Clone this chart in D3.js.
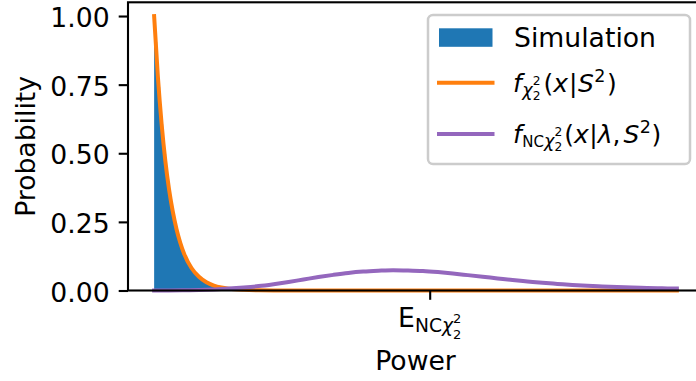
<!DOCTYPE html>
<html>
<head>
<meta charset="utf-8">
<script src="https://cdn.jsdelivr.net/npm/d3@7"></script>
<style>
  html, body { margin: 0; padding: 0; background: #fff; }
  svg { display: block; }
  text { font-family: "DejaVu Sans", sans-serif; fill: #000; }
</style>
</head>
<body>
<svg id="chart" width="696" height="381"></svg>
<script>
// Simulated power histogram (density), bins of equal width starting at 0
const histBinWidth = 0.2;
const histDensity = [0.905, 0.742, 0.606, 0.498, 0.406, 0.334, 0.272, 0.224, 0.182, 0.151,
  0.122, 0.101, 0.083, 0.070, 0.055, 0.045, 0.037, 0.030, 0.025, 0.020,
  0.017, 0.014, 0.011, 0.009, 0.0075, 0.006, 0.005, 0.004, 0.0034, 0.0028,
  0.0023, 0.0018, 0.0015, 0.0012, 0.001, 0.0008, 0.0007, 0.0005, 0.0004, 0.0003];

// Central chi-squared density samples
const chiX = [0, 0.25, 0.5, 0.75, 1, 1.25, 1.5, 1.75, 2, 2.5, 3, 3.5, 4, 4.5, 5, 6, 7, 8, 10, 15, 20, 25, 30, 35];
const chiY = [1.000, 0.779, 0.607, 0.472, 0.368, 0.287, 0.223, 0.174, 0.135, 0.082, 0.050, 0.030,
  0.018, 0.011, 0.0067, 0.0025, 0.0009, 0.0003, 0, 0, 0, 0, 0, 0];

// Non-central chi-squared density samples
const ncX = [0, 1, 2, 3, 4, 5, 6, 7, 8, 9, 10, 11, 12, 13, 14, 15, 16, 17, 18, 19, 20,
  21, 22, 23, 24, 25, 26, 27, 28, 29, 30, 31, 32, 33, 34, 35];
const ncY = [0, 0.0003, 0.001, 0.002, 0.004, 0.007, 0.011, 0.016, 0.023, 0.031, 0.040,
  0.049, 0.057, 0.064, 0.069, 0.072, 0.074, 0.073, 0.071, 0.067, 0.062, 0.056, 0.050,
  0.044, 0.038, 0.033, 0.028, 0.024, 0.020, 0.017, 0.015, 0.013, 0.011, 0.0095, 0.008, 0.007];

// Expected value of the non-central distribution (single x tick)
const ncMean = 18.45;
const yTicks = [0, 0.25, 0.5, 0.75, 1.0];

const FS = 26.67;   // regular text size
const MFS = 25;     // math text size in the legend
const LW = 4;
const colors = { hist: "#1f77b4", chi: "#ff7f0e", nc: "#9467bd" };

const svg = d3.select("#chart");
const plotL = 128, plotR = 703, plotT = 2.3, plotB = 290.5;

const x = d3.scaleLinear().domain([-1.75, 36.75]).range([plotL, plotR]);
const y = d3.scaleLinear().domain([0, 1.05]).range([plotB, plotT]);

// histogram as one stepped area (no seams between bins)
const histPts = histDensity.map((d, i) => [i * histBinWidth, d]);
histPts.push([histDensity.length * histBinWidth, histDensity[histDensity.length - 1]]);
const histArea = d3.area().x(d => x(d[0])).y0(y(0)).y1(d => y(d[1])).curve(d3.curveStepAfter);
svg.append("path").attr("d", histArea(histPts)).attr("fill", colors.hist);

const line = d3.line().x(d => x(d[0])).y(d => y(d[1])).curve(d3.curveMonotoneX);

svg.append("path")
  .attr("d", line(d3.zip(chiX, chiY)))
  .attr("fill", "none").attr("stroke", colors.chi).attr("stroke-width", LW)
  .attr("stroke-linecap", "square").attr("stroke-linejoin", "round");

svg.append("path")
  .attr("d", line(d3.zip(ncX, ncY)))
  .attr("fill", "none").attr("stroke", colors.nc).attr("stroke-width", LW)
  .attr("stroke-linecap", "square").attr("stroke-linejoin", "round");

// axes
const yAxis = d3.axisLeft(y).tickValues(yTicks).tickFormat(d3.format(".2f"))
  .tickSize(9.3).tickPadding(9);
const gy = svg.append("g").attr("transform", `translate(${plotL},0)`).call(yAxis);
gy.select(".domain").remove();
gy.selectAll("line").attr("stroke", "#000").attr("stroke-width", 2.1);
gy.selectAll("text").attr("font-size", FS).attr("font-family", "DejaVu Sans")
  .attr("fill", "#000").attr("dy", "0.4em");

const xAxis = d3.axisBottom(x).tickValues([ncMean]).tickFormat("").tickSize(9.3);
const gx = svg.append("g").attr("transform", `translate(0,${plotB})`).call(xAxis);
gx.select(".domain").remove();
gx.selectAll("line").attr("stroke", "#000").attr("stroke-width", 2.1);

// spines
svg.append("rect")
  .attr("x", plotL).attr("y", plotT).attr("width", plotR - plotL).attr("height", plotB - plotT)
  .attr("fill", "none").attr("stroke", "#000").attr("stroke-width", 2.1);

// lay out math-style text pieces one after another
function mathText(g, x0, base, pieces, size) {
  let cx = x0;
  pieces.forEach(p => {
    if (p.gap) { cx += p.gap; }
    const t = g.append("text")
      .attr("x", cx).attr("y", base + (p.dy || 0))
      .attr("font-size", (p.k || 1) * size)
      .attr("font-style", p.it ? "italic" : "normal")
      .text(p.t);
    const w = t.node().getComputedTextLength();
    if (!p.keep) cx += w;
  });
  return cx - x0;
}

// x tick label: E_{NC chi^2_2}
const tickPieces = [
  { t: "E" },
  { t: "NC", k: 0.7, dy: 5 },
  { t: "χ", k: 0.7, dy: 5, it: true },
  { t: "2", k: 0.49, dy: -3.5, keep: true },
  { t: "2", k: 0.49, dy: 12 }
];
const tmp = svg.append("g");
const wTick = mathText(tmp, 0, -100, tickPieces, FS);
tmp.remove();
mathText(svg.append("g"), x(ncMean) - wTick / 2, 326.7, tickPieces, FS);

// axis titles
svg.append("text").attr("x", (plotL + plotR) / 2).attr("y", 370)
  .attr("text-anchor", "middle").attr("font-size", FS).text("Power");
svg.append("text").attr("transform", `translate(35,${(plotT + plotB) / 2}) rotate(-90)`)
  .attr("text-anchor", "middle").attr("font-size", FS).text("Probability");

// legend
const lg = svg.append("g");
lg.append("rect").attr("x", 428).attr("y", 15).attr("width", 262).attr("height", 149)
  .attr("rx", 5).attr("fill", "#fff").attr("fill-opacity", 0.8)
  .attr("stroke", "#cccccc").attr("stroke-width", 2.5);
lg.append("rect").attr("x", 439).attr("y", 28.3).attr("width", 53.5).attr("height", 18.5)
  .attr("fill", colors.hist);
lg.append("line").attr("x1", 439).attr("x2", 492.5).attr("y1", 82.7).attr("y2", 82.7)
  .attr("stroke", colors.chi).attr("stroke-width", LW).attr("stroke-linecap", "square");
lg.append("line").attr("x1", 439).attr("x2", 492.5).attr("y1", 134).attr("y2", 134)
  .attr("stroke", colors.nc).attr("stroke-width", LW).attr("stroke-linecap", "square");

lg.append("text").attr("x", 514).attr("y", 46.7).attr("font-size", FS).text("Simulation");

mathText(lg, 513, 92, [
  { t: "f", it: true },
  { t: "χ", k: 0.7, dy: 4, it: true, gap: 0.5 },
  { t: "2", k: 0.49, dy: -7.5, keep: true },
  { t: "2", k: 0.49, dy: 8 },
  { t: "(", gap: 3 },
  { t: "x", it: true },
  { t: "|", gap: 1 },
  { t: "S", it: true, gap: 0.5 },
  { t: "2", k: 0.7, dy: -10, gap: 0.5 },
  { t: ")", gap: 1.5 }
], MFS);

mathText(lg, 513, 143, [
  { t: "f", it: true },
  { t: "NC", k: 0.6, dy: 4, gap: 0.5 },
  { t: "χ", k: 0.7, dy: 4, it: true },
  { t: "2", k: 0.49, dy: -7.5, keep: true },
  { t: "2", k: 0.49, dy: 8 },
  { t: "(", gap: 2 },
  { t: "x", it: true },
  { t: "|", gap: 0.5 },
  { t: "λ", it: true, gap: 0 },
  { t: "," },
  { t: "S", it: true, gap: 3 },
  { t: "2", k: 0.7, dy: -10, gap: 0.5 },
  { t: ")", gap: 0.5 }
], MFS);
</script>
</body>
</html>
